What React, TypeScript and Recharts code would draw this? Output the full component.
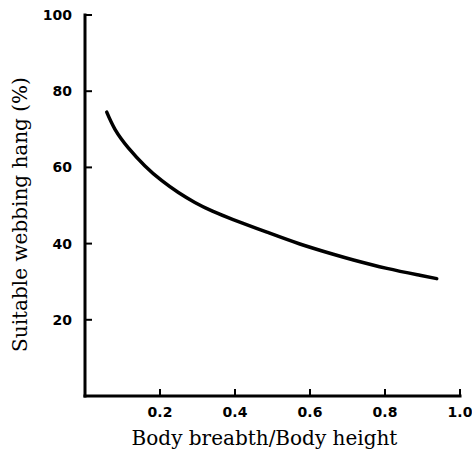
import { LineChart, Line, XAxis, YAxis } from 'recharts'

// curve
const ratio = [0.058, 0.08, 0.115, 0.16, 0.205, 0.249, 0.293, 0.34, 0.395, 0.485, 0.573, 0.662, 0.716, 0.805, 0.893, 0.938]
const hang = [74.5, 70.0, 65.2, 60.4, 56.5, 53.4, 50.8, 48.5, 46.3, 43.0, 39.9, 37.2, 35.7, 33.5, 31.7, 30.8]

const xTicks = [0.2, 0.4, 0.6, 0.8, 1.0]
const yTicks = [20, 40, 60, 80, 100]

const data = ratio.map((r, i) => ({ ratio: r, hang: hang[i] }))

const axisLine = { stroke: '#000', strokeWidth: 3, strokeLinecap: 'square' as const }
const tickFont = { fontFamily: 'DejaVu Sans', fontWeight: 700, fontSize: 14 }

// ticks point into the plot, labels sit outside
const XTick = ({ x, y, payload }: any) => (
  <g>
    <line x1={x} x2={x} y1={y - 7} y2={y} stroke="#000" strokeWidth={2} />
    <text x={x} y={y + 21} textAnchor="middle" fill="#000" {...tickFont}>
      {Number(payload.value).toFixed(1)}
    </text>
  </g>
)

const YTick = ({ x, y, payload }: any) => (
  <g>
    <line x1={x} x2={x + 7} y1={y} y2={y} stroke="#000" strokeWidth={2} />
    <text x={x - 13} y={y + 5} textAnchor="end" fill="#000" {...tickFont}>
      {payload.value}
    </text>
  </g>
)

const XTitle = ({ viewBox }: any) => (
  <text
    x={viewBox.x + viewBox.width / 2 - 8}
    y={viewBox.y + viewBox.height - 15}
    textAnchor="middle"
    fontFamily="DejaVu Serif"
    fontSize={20}
    fill="#000"
  >
    Body breabth/Body height
  </text>
)

const YTitle = ({ viewBox }: any) => {
  const cx = viewBox.x + 27
  const cy = viewBox.y + viewBox.height / 2 + 9
  return (
    <text
      x={cx}
      y={cy}
      transform={`rotate(-90 ${cx} ${cy})`}
      textAnchor="middle"
      fontFamily="DejaVu Serif"
      fontSize={20}
      fill="#000"
    >
      Suitable webbing hang (%)
    </text>
  )
}

export default function App() {
  return (
    <div style={{ position: 'absolute', left: 0, top: 0, background: '#fff' }}>
      <LineChart width={472} height={460} data={data} margin={{ top: 15, right: 12, bottom: 0, left: 0 }}>
        <XAxis
          type="number"
          dataKey="ratio"
          domain={[0, 1]}
          ticks={xTicks}
          height={64}
          axisLine={axisLine}
          tickLine={false}
          tickSize={0}
          tickMargin={0}
          tick={<XTick />}
          label={<XTitle />}
        />
        <YAxis
          type="number"
          domain={[0, 100]}
          ticks={yTicks}
          width={85}
          axisLine={axisLine}
          tickLine={false}
          tickSize={0}
          tickMargin={0}
          tick={<YTick />}
          label={<YTitle />}
        />
        <Line
          type="natural"
          dataKey="hang"
          stroke="#000"
          strokeWidth={3.5}
          strokeLinecap="round"
          dot={false}
          isAnimationActive={false}
        />
      </LineChart>
    </div>
  )
}
